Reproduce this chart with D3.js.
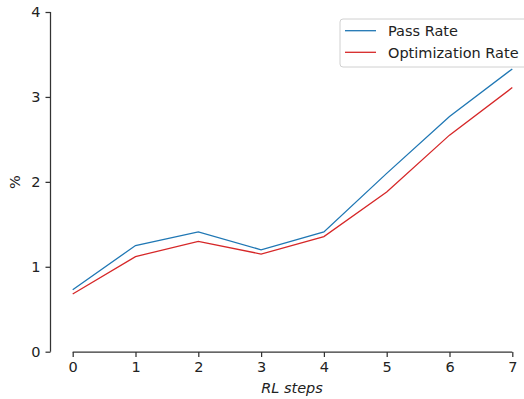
<!DOCTYPE html>
<html><head><meta charset="utf-8">
<script src="https://cdn.jsdelivr.net/npm/d3@7"></script>
<style>body{margin:0;background:#fff}svg{display:block}text{font-family:"DejaVu Sans",sans-serif;fill:#222}</style>
</head><body><div id="chart"></div>
<script>
const steps = [0,1,2,3,4,5,6,7];
const passRate = [0.73,1.25,1.41,1.20,1.41,2.10,2.77,3.33];
const optRate = [0.68,1.12,1.30,1.15,1.355,1.88,2.55,3.11];
const yTicks = [0,1,2,3,4];
const seriesNames = ["Pass Rate","Optimization Rate"];
const colors = ["#1f77b4","#d62728"];

const W=524,H=399;
const svg=d3.select("#chart").append("svg").attr("width",W).attr("height",H);
const x=d3.scaleLinear().domain([0,7]).range([72.7,512.3]);
const y=d3.scaleLinear().domain([0,4]).range([351.7,12]);
const fs="14.5px";

const ya=svg.append("g").attr("transform","translate(50.5,0)")
  .call(d3.axisLeft(y).tickValues(yTicks).tickSize(5).tickPadding(5).tickFormat(d3.format("d")));
const xa=svg.append("g").attr("transform","translate(0,352)")
  .call(d3.axisBottom(x).tickValues(steps).tickSize(5).tickPadding(5).tickFormat(d3.format("d")));
[ya,xa].forEach(a=>{
  a.selectAll("path").attr("stroke","#333").attr("stroke-width",1.25);
  a.selectAll("line").attr("stroke","#333").attr("stroke-width",1.25);
  a.selectAll("text").style("font-size",fs).style("font-family","DejaVu Sans").attr("fill","#222");
});
ya.select(".domain").attr("d",`M0,${y(4)}V${y(0)}`);
xa.select(".domain").attr("d",`M${x(0)},0H${x(7)}`);

const line=d3.line().x((d,i)=>x(steps[i])).y(d=>y(d));
[passRate,optRate].forEach((s,k)=>{
  svg.append("path").datum(s).attr("d",line).attr("fill","none")
    .attr("stroke",colors[k]).attr("stroke-width",1.3);
});

svg.append("text").attr("x",292).attr("y",393).attr("text-anchor","middle")
  .style("font-size",fs).style("font-style","italic").text("RL steps");
svg.append("text").attr("transform","translate(20,182) rotate(-90)").attr("text-anchor","middle")
  .style("font-size",fs).text("%");

const lg=svg.append("g");
lg.append("rect").attr("x",340).attr("y",19).attr("width",200).attr("height",48).attr("rx",3)
  .attr("fill","#fff").attr("fill-opacity",0.8).attr("stroke","#d0d0d0").attr("stroke-width",1);
seriesNames.forEach((n,i)=>{
  const yy=30.7+i*21.6;
  lg.append("line").attr("x1",345).attr("x2",376).attr("y1",yy).attr("y2",yy)
    .attr("stroke",colors[i]).attr("stroke-width",1.3);
  lg.append("text").attr("x",388).attr("y",yy+5.2).style("font-size",fs).text(n);
});
</script></body></html>
